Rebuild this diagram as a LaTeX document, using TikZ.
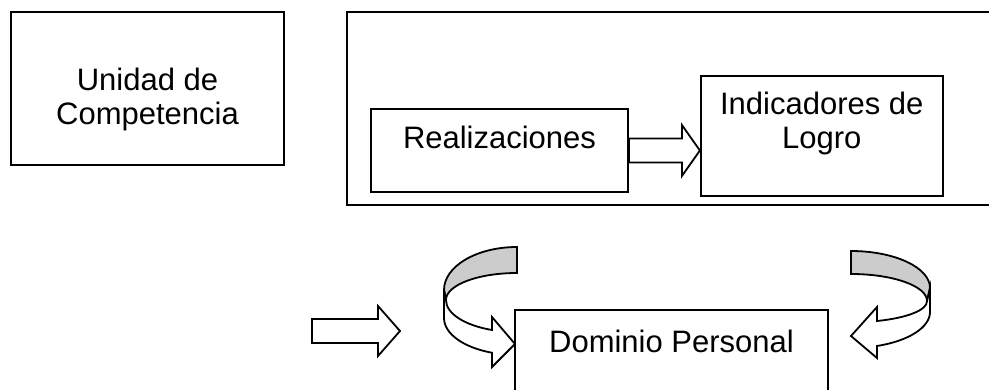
\documentclass[tikz,border=0pt]{standalone}
\usepackage{fontspec}
\setmainfont{Liberation Sans}
\usetikzlibrary{calc,positioning}

\begin{document}
\begin{tikzpicture}[x=1pt,y=1pt,line width=1.8pt,
  frame/.style={draw,inner sep=0pt},
  txt/.style={font=\fontsize{31}{34}\selectfont,align=center,inner sep=0pt},
  blockarrow/.style={draw,fill=white,line join=miter},
  backband/.style={draw,fill=black!20},
  frontband/.style={draw,fill=white}]
  \useasboundingbox (0,0) rectangle (989,389);
  % cuadros de arriba
  \node[frame,minimum width=273pt,minimum height=153pt] (unidad) at (147.5,300.5) {};
  \node[txt] (unidadtxt) at ([yshift=-11pt]unidad.center) {Unidad de\\Competencia};
  \draw (347,184) rectangle (1000,377);
  \node[frame,minimum width=257pt,minimum height=83pt] (real) at (499.5,238.5) {};
  \node[txt] (realtxt) at ([yshift=13.5pt]real.center) {Realizaciones};
  \node[frame,minimum width=242pt,minimum height=120pt,right=71pt of real,yshift=14.5pt] (ind) {};
  \node[txt] (indtxt) at ([yshift=12.4pt]ind.center) {Indicadores de\\Logro};
  \coordinate (a0) at (real.east);
  \coordinate (a1) at (ind.west |- real.east);
  \draw[blockarrow] ($(a0)+(0,12)$) -- ($(a1)+(-18,12)$) -- ($(a1)+(-18,25.5)$) -- (a1)
    -- ($(a1)+(-18,-25.5)$) -- ($(a1)+(-18,-12)$) -- ($(a0)+(0,-12)$) -- cycle;
  % cuadro de abajo
  \node[frame,minimum width=313pt,minimum height=100pt] (dom) at (671.5,29) {};
  \node[txt] (domtxt) at ([yshift=19pt]dom.center) {Dominio Personal};
  \coordinate (b0) at (312,58);
  \coordinate (b1) at (400,58);
  \draw[blockarrow] ($(b0)+(0,12)$) -- ($(b1)+(-22,12)$) -- ($(b1)+(-22,25)$) -- (b1)
    -- ($(b1)+(-22,-25)$) -- ($(b1)+(-22,-12)$) -- ($(b0)+(0,-12)$) -- cycle;
  % flecha curva izquierda
  \path[backband] (517,142) arc[start angle=90,end angle=180,x radius=73,y radius=43]
    -- (446,89) arc[start angle=180,end angle=90,x radius=71,y radius=27] -- cycle;
  \path[frontband,line join=miter] (444,99) -- (444,71) arc[start angle=180,end angle=250,x radius=73,y radius=37]
    -- (492,22) -- (515,45) -- (492,72) -- (492,59)
    arc[start angle=249.4,end angle=180,x radius=71,y radius=32] -- cycle;
  % flecha curva derecha
  \path[backband] (851,138) arc[start angle=90,end angle=0,x radius=79,y radius=37]
    -- (927,88) arc[start angle=0,end angle=90,x radius=76,y radius=27] -- cycle;
  \path[frontband,line join=miter] (930,101) -- (930,77) arc[start angle=0,end angle=-70.8,x radius=79,y radius=36]
    -- (877,31) -- (851,53) -- (877,82) -- (877,68)
    arc[start angle=-70,end angle=0,x radius=76,y radius=21] -- cycle;
\end{tikzpicture}
\end{document}
